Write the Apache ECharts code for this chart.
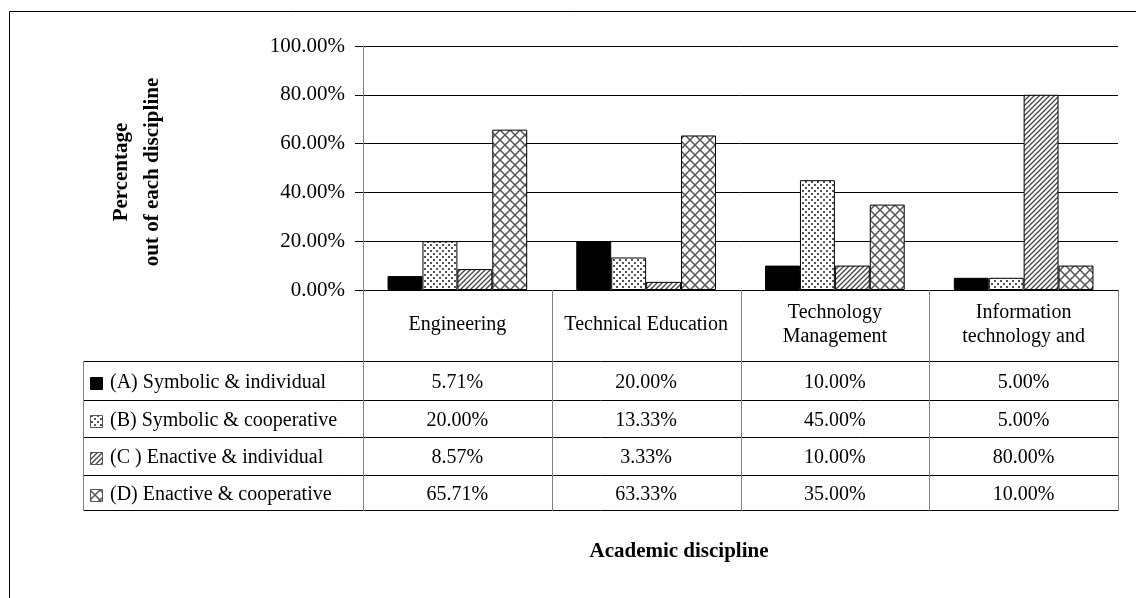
<!DOCTYPE html>
<html><head><meta charset="utf-8">
<script src="https://cdn.jsdelivr.net/npm/echarts@6/dist/echarts.min.js"></script>
<style>html,body{margin:0;padding:0;background:#fff}#c{width:1136px;height:598px}</style>
</head><body><div id="c"></div>
<script>
const categories = ["Engineering", "Technical Education", "Technology Management", "Information technology and"];
const categoryLabels = ["Engineering", "Technical Education", "Technology\nManagement", "Information\ntechnology and"];
const seriesNames = ["(A) Symbolic & individual", "(B) Symbolic & cooperative", "(C ) Enactive & individual", "(D) Enactive & cooperative"];
const valuesA = [5.71, 20.00, 10.00, 5.00];
const valuesB = [20.00, 13.33, 45.00, 5.00];
const valuesC = [8.57, 3.33, 10.00, 80.00];
const valuesD = [65.71, 63.33, 35.00, 10.00];
const yTickValues = [0, 20, 40, 60, 80, 100];
const yAxisTitle = "Percentage\nout of each discipline";
const xAxisTitle = "Academic discipline";

const allValues = [valuesA, valuesB, valuesC, valuesD];
const FONT = '"Liberation Serif", "Times New Roman", serif';

function makeCanvas(w, h, draw) {
  const c = document.createElement('canvas');
  c.width = w; c.height = h;
  const g = c.getContext('2d');
  g.fillStyle = '#fff'; g.fillRect(0, 0, w, h);
  draw(g, w, h);
  return c;
}
const dotsCanvas = makeCanvas(6, 6, g => {
  g.fillStyle = '#555';
  g.fillRect(1, 1, 2, 2);
  g.fillRect(4, 4, 2, 2);
});
const hatchCanvas = makeCanvas(5, 5, g => {
  g.strokeStyle = '#444'; g.lineWidth = 1.3;
  g.beginPath();
  g.moveTo(-1, 6); g.lineTo(6, -1);
  g.moveTo(-1, 1); g.lineTo(1, -1);
  g.moveTo(4, 6); g.lineTo(6, 4);
  g.stroke();
});
const crossCanvas = makeCanvas(10, 10, g => {
  g.strokeStyle = '#555'; g.lineWidth = 1.5;
  g.beginPath();
  g.moveTo(0, 0); g.lineTo(10, 10);
  g.moveTo(0, 10); g.lineTo(10, 0);
  g.stroke();
});
const fills = [
  '#000',
  { image: dotsCanvas, repeat: 'repeat' },
  { image: hatchCanvas, repeat: 'repeat' },
  { image: crossCanvas, repeat: 'repeat' }
];

const W = 1136, H = 598;
const gridL = 363, gridR = 1118, gridT = 46, axisY = 290;
const rowY = [361, 400, 437, 475, 510];
const tableLeft = 83;
const band = (gridR - gridL) / categories.length;

const graphics = [];
// outer frame
graphics.push({ type: 'rect', shape: { x: 9.5, y: 11.5, width: 1300, height: 800 }, style: { fill: 'none', stroke: '#000', lineWidth: 1 }, silent: true });
// horizontal table lines
rowY.forEach(y => {
  graphics.push({ type: 'line', shape: { x1: tableLeft, y1: y + 0.5, x2: gridR, y2: y + 0.5 }, style: { stroke: '#000', lineWidth: 1 }, z: 10 });
});
// vertical lines
graphics.push({ type: 'line', shape: { x1: tableLeft + 0.5, y1: rowY[0], x2: tableLeft + 0.5, y2: rowY[rowY.length - 1] + 1 }, style: { stroke: '#808080', lineWidth: 1 }, z: 10 });
for (let i = 0; i <= categories.length; i++) {
  const x = Math.round(gridL + i * band) + 0.5;
  graphics.push({ type: 'line', shape: { x1: x, y1: axisY, x2: x, y2: rowY[rowY.length - 1] + 1 }, style: { stroke: '#808080', lineWidth: 1 }, z: 10 });
}
// table cells
allValues.forEach((vals, r) => {
  const cy = (rowY[r] + rowY[r + 1]) / 2 + 2;
  vals.forEach((v, i) => {
    graphics.push({ type: 'text', x: gridL + (i + 0.5) * band, y: cy, style: { text: v.toFixed(2) + '%', fill: '#000', font: '20px ' + FONT, align: 'center', verticalAlign: 'middle' }, z: 11 });
  });
  graphics.push({ type: 'rect', shape: { x: 90.5, y: Math.round(cy - 6) + 0.5, width: 12, height: 12 }, style: { fill: fills[r], stroke: r === 0 ? '#000' : '#555', lineWidth: 1 }, z: 11 });
  graphics.push({ type: 'text', x: 110, y: cy, style: { text: seriesNames[r], fill: '#000', font: '20px ' + FONT, align: 'left', verticalAlign: 'middle' }, z: 11 });
});
// axis titles
graphics.push({ type: 'text', x: 137, y: 172, rotation: Math.PI / 2, style: { text: yAxisTitle, fill: '#000', font: 'bold 21px ' + FONT, align: 'center', verticalAlign: 'middle', lineHeight: 31 }, z: 11 });
graphics.push({ type: 'text', x: 679, y: 552, style: { text: xAxisTitle, fill: '#000', font: 'bold 21px ' + FONT, align: 'center', verticalAlign: 'middle' }, z: 11 });

const chart = echarts.init(document.getElementById('c'), null, { renderer: 'canvas' });
chart.setOption({
  backgroundColor: '#fff',
  animation: false,
  grid: { left: gridL, right: W - gridR, top: gridT, bottom: H - axisY, containLabel: false },
  xAxis: {
    type: 'category',
    data: categories,
    axisLine: { show: true, lineStyle: { color: '#000', width: 1 } },
    axisTick: { show: false },
    axisLabel: {
      interval: 0, margin: 35, verticalAlign: 'middle', lineHeight: 24,
      fontFamily: FONT, fontSize: 20, color: '#000',
      formatter: (v, i) => categoryLabels[i]
    }
  },
  yAxis: {
    type: 'value', min: yTickValues[0], max: yTickValues[yTickValues.length - 1], interval: 20,
    axisLine: { show: true, lineStyle: { color: '#808080', width: 1 } },
    axisTick: { show: true, length: 8, lineStyle: { color: '#000' } },
    splitLine: { show: true, lineStyle: { color: '#000', width: 1 } },
    axisLabel: { formatter: v => v.toFixed(2) + '%', fontFamily: FONT, fontSize: 21, color: '#000', margin: 18 }
  },
  series: allValues.map((vals, s) => ({
    type: 'bar',
    name: seriesNames[s],
    data: vals,
    barGap: '0%',
    barCategoryGap: '26%',
    itemStyle: { color: fills[s], borderColor: '#000', borderWidth: 1 }
  })),
  graphic: graphics
});
</script>
</body></html>
